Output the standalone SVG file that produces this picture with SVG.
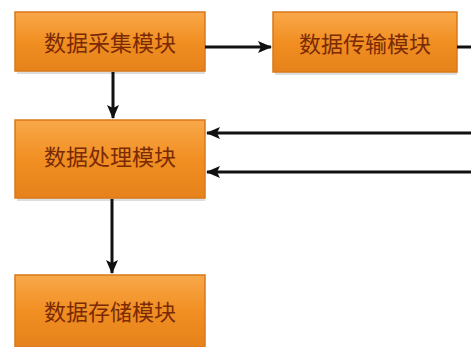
<svg xmlns="http://www.w3.org/2000/svg" width="471" height="347" viewBox="0 0 471 347">
<defs>
<linearGradient id="g" x1="0" y1="0" x2="0" y2="1">
<stop offset="0" stop-color="#F9A84A"/>
<stop offset="0.5" stop-color="#F18F22"/>
<stop offset="1" stop-color="#E5821A"/>
</linearGradient>
<marker id="ah" markerWidth="14" markerHeight="14" refX="13" refY="7" orient="auto" markerUnits="userSpaceOnUse">
<path d="M0,1 L14,7 L0,13 L3,7 Z" fill="#111"/>
</marker>
</defs>
<style>
.box{fill:url(#g);stroke:#D9781A;stroke-width:1.5}
.sh{fill:#bbb;opacity:0.5}
.t{font-family:"Noto Sans CJK SC","Liberation Sans",sans-serif;font-size:22px;fill:#7A2A05;text-anchor:middle;dominant-baseline:central}
.c{stroke:#111;stroke-width:3;fill:none;marker-end:url(#ah)}
</style>
<rect width="471" height="347" fill="#fff"/>
<g id="n1">
<rect class="sh" x="17" y="71" width="188" height="3"/>
<rect class="box" x="15" y="12" width="190" height="59"/>
<text class="t" x="110" y="41">数据采集模块</text>
</g>
<g id="n2">
<rect class="sh" x="275" y="72" width="182" height="3"/>
<rect class="box" x="273" y="12" width="184" height="60"/>
<text class="t" x="365" y="42">数据传输模块</text>
</g>
<g id="n3">
<rect class="sh" x="17" y="198" width="188" height="3"/>
<rect class="box" x="15" y="120" width="190" height="78"/>
<text class="t" x="110" y="155">数据处理模块</text>
</g>
<g id="n4">
<rect class="box" x="15" y="275" width="190" height="72"/>
<text class="t" x="110" y="310">数据存储模块</text>
</g>
<g id="connectors">
<line class="c" x1="205" y1="47" x2="271" y2="47"/>
<line class="c" x1="457" y1="47" x2="471" y2="47" style="marker-end:none"/>
<line class="c" x1="113" y1="72" x2="113" y2="118"/>
<line class="c" x1="112" y1="199" x2="112" y2="273"/>
<line class="c" x1="471" y1="133" x2="207" y2="133"/>
<line class="c" x1="471" y1="172" x2="207" y2="172"/>
</g>
</svg>
